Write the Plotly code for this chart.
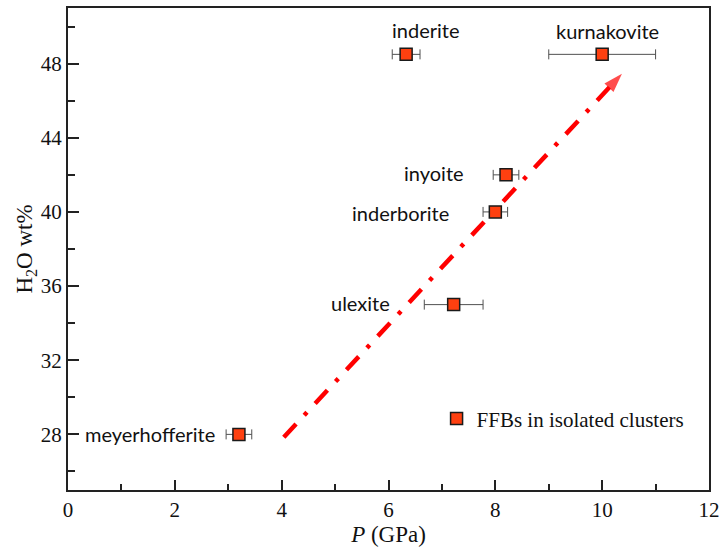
import plotly.graph_objects as go

# ---- data ----
minerals = ["meyerhofferite", "ulexite", "inderborite", "inyoite", "inderite", "kurnakovite"]
pressure = [3.2, 7.22, 8.0, 8.2, 6.33, 10.0]
pressure_err = [0.24, 0.55, 0.23, 0.24, 0.26, 1.0]
h2o = [28.0, 35.0, 40.0, 42.0, 48.5, 48.5]
arrow_x = [4.04, 10.37]
arrow_y = [27.85, 47.45]

# label offsets (px) and anchors
label_style = {
    "meyerhofferite": dict(xanchor="right", xshift=-22, yshift=0),
    "ulexite": dict(xanchor="right", xshift=-62, yshift=2),
    "inderborite": dict(xanchor="right", xshift=-44, yshift=-1),
    "inyoite": dict(xanchor="right", xshift=-40, yshift=2),
    "inderite": dict(xanchor="center", xshift=19, yshift=24),
    "kurnakovite": dict(xanchor="center", xshift=5, yshift=23),
}

serif = "Liberation Serif"
fig = go.Figure()

fig.add_trace(go.Scatter(
    x=arrow_x, y=arrow_y, mode="lines+markers",
    line=dict(color="#ff0000", width=4.5, dash="18px,12px,4px,12px"),
    marker=dict(symbol="arrow", size=[0, 20], angleref="previous", color="#ff0000",
                line=dict(width=0)),
    showlegend=False, hoverinfo="skip",
))

fig.add_trace(go.Scatter(
    x=pressure, y=h2o, mode="markers", name="FFBs in isolated clusters",
    error_x=dict(type="data", array=pressure_err, color="#505050", thickness=1, width=5),
    marker=dict(symbol="square", size=12, color="#ff4010", line=dict(color="#1a1a1a", width=1.5)),
))

for m, px, py in zip(minerals, pressure, h2o):
    s = label_style[m]
    fig.add_annotation(x=px, y=py, text=m, showarrow=False, xanchor=s["xanchor"], yanchor="middle",
                       xshift=s["xshift"], yshift=s["yshift"],
                       font=dict(family="Lato", size=20, color="#111111"))

axis_common = dict(showline=True, linecolor="#222222", linewidth=2, mirror=True,
                   showgrid=False, zeroline=False, ticks="inside", tickcolor="#222222",
                   tickfont=dict(family=serif, size=21, color="#111111"))

fig.update_xaxes(range=[0, 12], dtick=2, ticklen=10, tickwidth=1.5,
                 minor=dict(ticks="inside", dtick=1, ticklen=6, tickcolor="#222222", tickwidth=1.5),
                 title=dict(text="<i>P</i> (GPa)", font=dict(family=serif, size=23, color="#111111"), standoff=4),
                 **axis_common)
fig.update_yaxes(range=[25, 51], dtick=4, tick0=0, ticklen=11, tickwidth=1.5,
                 minor=dict(ticks="inside", dtick=2, ticklen=7, tickcolor="#222222", tickwidth=1.5),
                 title=dict(text="H<sub>2</sub>O wt%", font=dict(family=serif, size=23, color="#111111"), standoff=2),
                 **axis_common)

fig.update_layout(
    width=726, height=554,
    margin=dict(l=68, r=14, t=6, b=64),
    plot_bgcolor="white", paper_bgcolor="white",
    showlegend=True,
    legend=dict(x=0.575, y=0.19, xanchor="left", yanchor="top", bgcolor="rgba(0,0,0,0)",
                font=dict(family=serif, size=21, color="#111111")),
)

fig.write_html("out.html")
